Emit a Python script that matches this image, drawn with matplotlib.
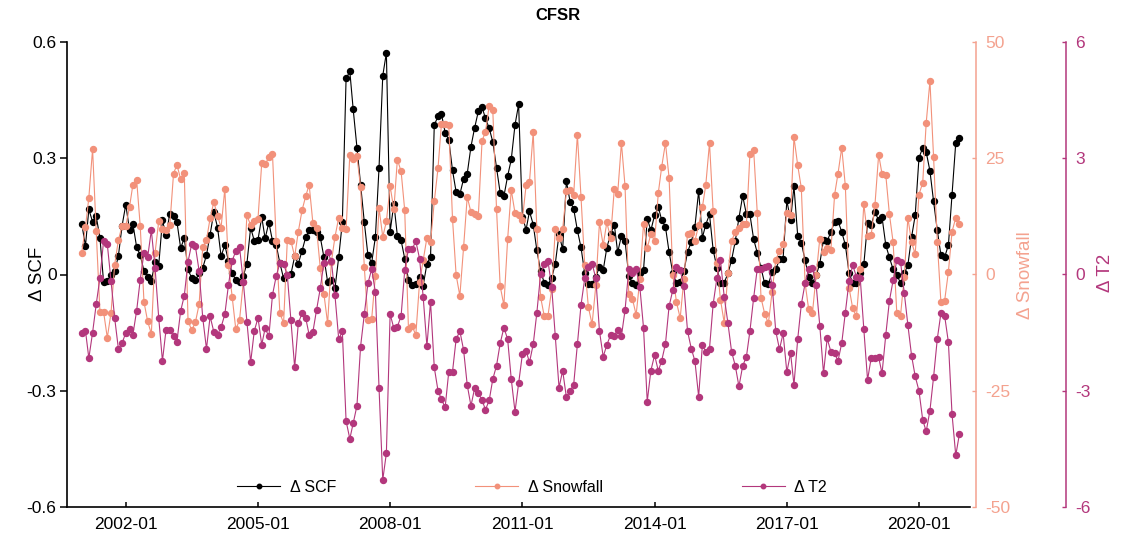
import numpy as np
import pandas as pd
import matplotlib
matplotlib.use('Agg')
import matplotlib.pyplot as plt

plt.rcParams['font.family'] = ['Liberation Sans', 'DejaVu Sans']

start_month = '2001-01'

scf = [0.131, 0.074, 0.168, 0.136, 0.150, 0.095, -0.019, -0.017, -0.002, 0.008, 0.048, 0.125,
       0.180, 0.116, 0.131, 0.071, 0.050, 0.009, -0.006, -0.016, 0.031, 0.023, 0.140, 0.101,
       0.157, 0.150, 0.136, 0.068, 0.094, 0.013, -0.009, -0.015, 0.004, 0.017, 0.050, 0.103,
       0.161, 0.121, 0.047, 0.076, 0.035, 0.004, -0.015, -0.019, -0.004, 0.028, 0.121, 0.087,
       0.090, 0.148, 0.093, 0.134, 0.087, 0.076, 0.030, -0.010, -0.002, 0.001, 0.047, 0.028,
       0.061, 0.097, 0.114, 0.114, 0.110, 0.097, 0.045, -0.019, -0.013, -0.036, 0.045, 0.135,
       0.506, 0.524, 0.426, 0.327, 0.230, 0.135, 0.050, 0.030, 0.097, 0.275, 0.513, 0.572,
       0.110, 0.183, 0.100, 0.088, 0.041, -0.013, -0.027, -0.025, -0.006, -0.029, 0.028, 0.045,
       0.386, 0.408, 0.415, 0.366, 0.348, 0.269, 0.213, 0.207, 0.247, 0.260, 0.330, 0.378,
       0.421, 0.432, 0.403, 0.378, 0.342, 0.276, 0.211, 0.202, 0.254, 0.297, 0.386, 0.439,
       0.149, 0.116, 0.163, 0.129, 0.063, 0.009, -0.021, -0.026, -0.009, 0.028, 0.104, 0.065,
       0.241, 0.187, 0.170, 0.114, 0.070, 0.003, -0.025, -0.025, -0.006, 0.020, 0.011, 0.069,
       0.104, 0.129, 0.057, 0.100, 0.087, -0.004, -0.023, -0.027, 0.003, 0.011, 0.144, 0.114,
       0.153, 0.174, 0.140, 0.123, 0.058, 0.004, -0.023, -0.019, 0.009, 0.058, 0.084, 0.123,
       0.215, 0.095, 0.129, 0.155, 0.064, 0.018, -0.021, -0.021, 0.003, 0.037, 0.087, 0.146,
       0.203, 0.155, 0.155, 0.091, 0.056, 0.017, -0.023, -0.025, 0.007, 0.013, 0.039, 0.041,
       0.191, 0.140, 0.228, 0.100, 0.082, 0.037, -0.006, -0.021, -0.002, 0.028, 0.090, 0.086,
       0.110, 0.136, 0.138, 0.110, 0.076, 0.003, -0.021, -0.023, 0.003, 0.026, 0.133, 0.127,
       0.161, 0.140, 0.148, 0.076, 0.044, 0.013, -0.002, -0.021, 0.003, 0.024, 0.097, 0.153,
       0.301, 0.327, 0.316, 0.267, 0.189, 0.114, 0.050, 0.045, 0.076, 0.204, 0.340, 0.353]

snowfall = [4.7, 10.2, 16.5, 27.0, 9.3, -8.0, -8.0, -13.6, -8.2, 2.1, 7.4, 10.4,
            10.4, 14.5, 19.3, 20.4, 10.4, -5.9, -10.0, -12.8, 4.7, 11.4, 9.7, 9.5,
            10.6, 21.7, 23.6, 20.5, 21.8, -9.9, -12.0, -10.3, -6.4, 5.9, 7.4, 12.1,
            15.6, 12.6, 10.1, 18.4, 2.1, -4.8, -11.8, -9.8, -1.6, 12.7, 10.6, 11.5,
            12.0, 24.0, 23.7, 25.2, 26.0, 7.1, -8.2, -10.5, 7.4, 7.2, 3.9, 9.2,
            13.8, 16.9, 19.3, 11.0, 10.0, 1.4, -4.1, -10.5, 2.7, 8.1, 12.2, 10.1,
            9.7, 25.8, 24.8, 25.4, 18.8, 1.6, -9.8, -9.6, -0.3, 14.3, 8.1, 11.4,
            19.0, 14.0, 24.7, 22.2, 13.8, -11.7, -11.1, -13.0, -1.6, 3.1, 7.9, 6.9,
            15.7, 22.9, 32.3, 32.4, 32.2, 12.0, -0.1, -4.6, 5.9, 16.7, 13.4, 13.1,
            12.5, 28.8, 30.6, 36.3, 35.3, 14.0, -2.5, -6.6, 7.6, 18.2, 13.2, 12.9,
            11.8, 19.2, 19.9, 30.6, 9.7, -4.8, -8.9, -8.9, -3.2, 9.7, 7.9, 9.7,
            18.0, 18.2, 17.1, 30.1, 16.7, 2.0, -7.0, -10.7, -2.3, 11.2, 6.3, 11.2,
            7.9, 18.4, 17.4, 28.3, 19.0, -4.3, -5.2, -8.7, -0.9, 10.9, 5.7, 8.7,
            7.2, 17.6, 23.2, 28.3, 20.8, -0.1, -5.9, -9.4, -0.9, 8.8, 9.0, 7.2,
            10.6, 14.5, 19.2, 28.3, 13.7, 2.4, -5.4, -10.4, 0.4, 7.2, 9.2, 10.1,
            10.8, 10.8, 26.0, 26.8, 13.2, -5.0, -8.4, -10.5, -3.7, 3.1, 5.1, 6.5,
            13.3, 12.7, 29.5, 23.5, 18.6, -1.8, -7.5, -8.3, -0.1, 7.7, 4.9, 5.6,
            5.2, 17.2, 21.7, 27.3, 19.0, -2.9, -7.3, -9.0, 1.1, 15.2, 8.2, 8.5,
            14.9, 25.8, 21.6, 21.4, 13.0, 6.9, -8.2, -8.9, -0.5, 12.2, 6.9, 4.4,
            17.2, 19.7, 32.6, 41.6, 25.3, 7.0, -6.0, -5.6, 0.6, 9.2, 12.2, 10.9]

t2 = [-1.50, -1.45, -2.16, -1.50, -0.77, -0.09, 0.86, 0.78, -0.17, -1.12, -1.92, -1.78,
      -1.50, -1.40, -1.55, -0.94, -0.13, 0.56, 0.44, 1.14, 0.17, -1.11, -2.23, -1.42,
      -1.43, -1.59, -1.73, -0.94, -0.55, 0.33, 0.78, 0.73, 0.09, -1.12, -1.92, -1.08,
      -1.48, -1.55, -1.36, -1.03, -0.27, 0.35, 0.61, 0.71, -0.19, -1.22, -2.27, -1.46,
      -1.12, -1.81, -1.39, -1.60, -0.53, -0.04, 0.29, 0.28, -0.02, -1.18, -2.40, -1.26,
      -1.00, -1.13, -1.56, -1.48, -0.92, -0.36, 0.30, 0.58, 0.35, -0.54, -1.67, -1.47,
      -3.78, -4.24, -3.84, -3.39, -1.86, -1.03, -0.23, 0.14, -0.46, -2.92, -5.30, -4.61,
      -1.02, -1.39, -1.35, -1.07, 0.11, 0.67, 0.65, 0.86, 0.41, -0.58, -1.85, -0.70,
      -2.40, -3.00, -3.22, -3.43, -2.51, -2.51, -1.67, -1.46, -1.95, -2.85, -3.39, -2.94,
      -3.06, -3.24, -3.49, -3.25, -2.70, -2.35, -1.78, -1.37, -1.67, -2.70, -3.54, -2.81,
      -2.06, -1.97, -2.27, -1.80, -0.99, 0.01, 0.28, 0.35, -0.32, -1.59, -2.92, -2.48,
      -3.17, -3.00, -2.85, -1.80, -0.79, -0.10, 0.20, 0.28, -0.10, -1.46, -2.12, -1.82,
      -1.56, -1.59, -1.42, -1.59, -0.92, 0.13, 0.03, 0.13, -0.33, -1.37, -3.28, -2.48,
      -2.08, -2.49, -2.22, -1.79, -0.82, -0.40, 0.20, 0.11, -0.30, -1.46, -1.91, -2.23,
      -3.15, -1.82, -1.99, -1.91, -0.77, -0.10, 0.37, -0.58, -1.26, -1.99, -2.36, -2.89,
      -2.36, -2.12, -1.46, -0.60, 0.15, 0.15, 0.20, 0.21, -0.27, -1.46, -1.93, -1.52,
      -2.52, -2.03, -2.85, -1.67, -0.77, -0.23, 0.15, 0.18, -0.27, -1.32, -2.55, -1.65,
      -1.99, -2.03, -2.23, -1.77, -0.99, -0.16, 0.24, -0.06, -0.08, -1.41, -2.72, -2.15,
      -2.15, -2.14, -2.55, -1.56, -0.68, -0.15, 0.37, 0.33, -0.47, -1.30, -2.10, -2.63,
      -3.00, -3.75, -4.05, -3.51, -2.65, -1.66, -1.00, -1.07, -1.75, -3.60, -4.67, -4.12]

x_ticks = ['2002-01', '2005-01', '2008-01', '2011-01', '2014-01', '2017-01', '2020-01']
scf_ticks = [-0.6, -0.3, 0, 0.3, 0.6]
snow_ticks = [-50, -25, 0, 25, 50]
t2_ticks = [-6, -3, 0, 3, 6]
series_labels = ['\u0394 SCF', '\u0394 Snowfall', '\u0394 T2']
title = 'CFSR'

dates = pd.date_range(start_month, periods=len(scf), freq='MS')

W, H = 1122, 539
fig = plt.figure(figsize=(W / 100, H / 100), dpi=100)
L, R, T, B = 67, 970, 42, 507
ax = fig.add_axes([L / W, (H - B) / H, (R - L) / W, (B - T) / H])
ax2 = ax.twinx()
ax3 = ax.twinx()

c_scf = '#000000'
c_sn = '#F2917A'
c_sn_ax = '#F4A28F'
c_t2 = '#B3377C'

ms, lw = 4.3, 0.8
l1, = ax.plot(dates, scf, '-o', color=c_scf, ms=ms, lw=lw, label=series_labels[0])
l2, = ax2.plot(dates, snowfall, '-o', color=c_sn, ms=ms, lw=lw, label=series_labels[1])
l3, = ax3.plot(dates, t2, '-o', color=c_t2, ms=ms, lw=lw, label=series_labels[2])

ax.set_xlim(pd.Timestamp('2000-09-01'), pd.Timestamp('2021-02-27'))
ax.set_ylim(-0.6, 0.6)
ax2.set_ylim(-50, 50)
ax3.set_ylim(-6, 6)

ax.set_xticks([pd.Timestamp(s + '-01') for s in x_ticks])
ax.set_xticklabels(x_ticks)
ax.set_yticks(scf_ticks)
ax.set_yticklabels([f'{v:g}' for v in scf_ticks])
ax2.set_yticks(snow_ticks)
ax2.set_yticklabels([f'{v:g}' for v in snow_ticks])
ax3.set_yticks(t2_ticks)
ax3.set_yticklabels([f'{v:g}' for v in t2_ticks])

fs = 12.5
for a in (ax, ax2, ax3):
    a.spines['top'].set_visible(False)
for s in ('left', 'bottom'):
    ax2.spines[s].set_visible(False)
    ax3.spines[s].set_visible(False)
ax.spines['right'].set_visible(False)
ax.spines['left'].set_linewidth(1.2)
ax.spines['bottom'].set_linewidth(1.2)

ax2.spines['right'].set_position(('outward', 6 * 0.72))
ax2.spines['right'].set_color(c_sn_ax)
ax2.spines['right'].set_linewidth(1.1)
ax3.spines['right'].set_position(('outward', 96 * 0.72))
ax3.spines['right'].set_color(c_t2)
ax3.spines['right'].set_linewidth(1.1)

ax.tick_params(axis='x', direction='in', length=3.5, width=1.1, pad=7, labelsize=fs)
ax.tick_params(axis='y', direction='out', length=5, width=1.1, pad=2.5, labelsize=fs)
ax2.tick_params(axis='y', direction='in', length=3.2, width=1.0, pad=6.5, labelsize=fs,
                colors=c_sn_ax)
ax3.tick_params(axis='y', direction='in', length=3.2, width=1.0, pad=6.5, labelsize=fs,
                colors=c_t2)

ax.set_zorder(1); ax2.set_zorder(2); ax3.set_zorder(3)
ax2.patch.set_visible(False); ax3.patch.set_visible(False)

fig.text(38 / W, 1 - 274 / H, series_labels[0], rotation=90, ha='center', va='center',
         fontsize=13.5, color=c_scf)
fig.text(1026 / W, 1 - 275 / H, series_labels[1], rotation=90, ha='center', va='center',
         fontsize=13.5, color=c_sn_ax)
fig.text(1106 / W, 1 - 273 / H, series_labels[2], rotation=90, ha='center', va='center',
         fontsize=13.5, color=c_t2)
fig.text(558 / W, 1 - 15 / H, title, ha='center', va='center', fontsize=12,
         fontweight='bold')

leg = ax3.legend(handles=[l1, l2, l3], loc='center', bbox_to_anchor=(0.515, 0.043),
                 ncol=3, frameon=False, fontsize=11.5, markerscale=0.75,
                 handlelength=2.7, handletextpad=0.6, columnspacing=8.7)

fig.savefig('out.png', dpi=100)
